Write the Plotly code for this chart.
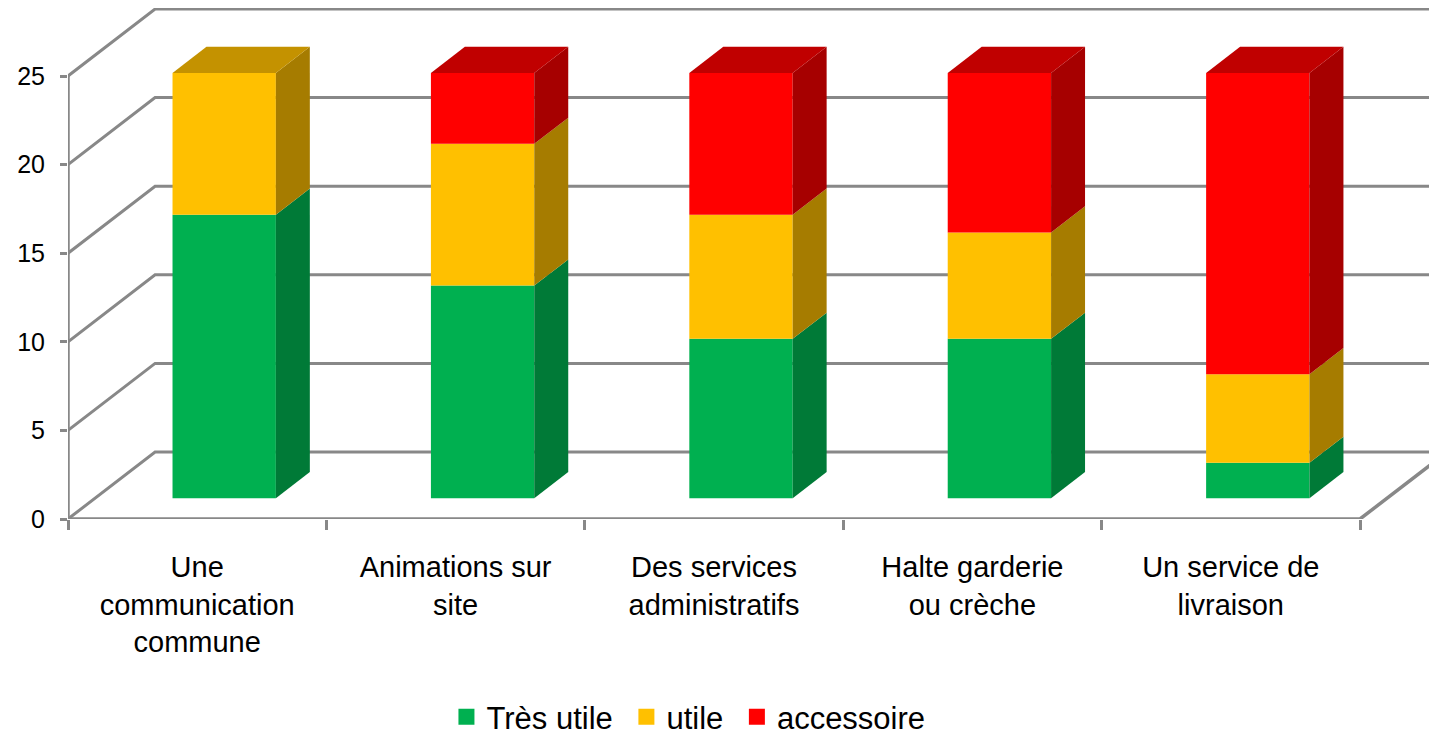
import plotly.graph_objects as go

categories = ["Une<br>communication<br>commune", "Animations sur<br>site",
              "Des services<br>administratifs", "Halte garderie<br>ou crèche",
              "Un service de<br>livraison"]
tres_utile = [16, 12, 9, 9, 2]
utile = [8, 8, 7, 6, 5]
accessoire = [0, 4, 8, 9, 17]
y_ticks = [0, 5, 10, 15, 20, 25]

series = [
    ("Très utile", tres_utile, "#00B050", "#007A37", "#009442"),
    ("utile", utile, "#FFC000", "#A67C00", "#C49200"),
    ("accessoire", accessoire, "#FF0000", "#A60000", "#C00000"),
]

# fake 3d: depth of the box in data units
DX = 0.337
DY = 3.78
F0 = 0.31   # front of bars, fraction of depth
FD = 0.39   # bar depth, fraction of depth
W = 0.4
XMAX = -0.5 + 1369 / 258.4
grid_col = "#888888"

fig = go.Figure()

# walls / gridlines
for v in y_ticks:
    fig.add_trace(go.Scatter(x=[-0.5, -0.5 + DX, XMAX], y=[v, v + DY, v + DY],
                             mode="lines", line=dict(color=grid_col, width=3),
                             hoverinfo="skip", showlegend=False))
fig.add_trace(go.Scatter(x=[-0.5, -0.5, 4.5, 4.5 + DX], y=[y_ticks[-1], 0, 0, DY],
                         mode="lines", line=dict(color=grid_col, width=3.5),
                         hoverinfo="skip", showlegend=False))

# bars
n = len(categories)
for i in range(n):
    base = 0
    x0 = i - W / 2 + F0 * DX
    x1 = x0 + W
    vals = [s[1][i] for s in series]
    last = max(k for k, v in enumerate(vals) if v > 0)
    for k, (name, data, front, side, top) in enumerate(series):
        v = data[i]
        if v <= 0:
            continue
        yb = base + F0 * DY
        yt = yb + v
        fig.add_trace(go.Scatter(x=[x0, x1, x1, x0, x0], y=[yb, yb, yt, yt, yb],
                                 fill="toself", fillcolor=front, mode="lines",
                                 line=dict(width=0, color=front),
                                 hoverinfo="skip", showlegend=False))
        fig.add_trace(go.Scatter(x=[x1, x1 + FD * DX, x1 + FD * DX, x1, x1],
                                 y=[yb, yb + FD * DY, yt + FD * DY, yt, yb],
                                 fill="toself", fillcolor=side, mode="lines",
                                 line=dict(width=0, color=side),
                                 hoverinfo="skip", showlegend=False))
        if k == last:
            fig.add_trace(go.Scatter(x=[x0, x1, x1 + FD * DX, x0 + FD * DX, x0],
                                     y=[yt, yt, yt + FD * DY, yt + FD * DY, yt],
                                     fill="toself", fillcolor=top, mode="lines",
                                     line=dict(width=0, color=top),
                                     hoverinfo="skip", showlegend=False))
        base += v

# legend entries
for name, data, front, side, top in series:
    fig.add_trace(go.Scatter(x=[None], y=[None], mode="markers", name=name + " ",
                             marker=dict(symbol="square", size=17, color=front)))

fig.update_layout(
    width=1429, height=736,
    margin=dict(l=60, r=0, t=0, b=225),
    plot_bgcolor="white", paper_bgcolor="white",
    font=dict(family="Liberation Sans, Arial", size=25, color="black"),
    showlegend=True,
    legend=dict(orientation="h", x=0.4565, xanchor="center", y=-0.3875, yanchor="middle",
                font=dict(size=31)),
    xaxis=dict(range=[-0.5, XMAX], tickvals=list(range(n)), ticktext=categories,
               ticks="", showgrid=False, zeroline=False, showline=False,
               tickfont=dict(size=29), ticklabelstandoff=28,
               minor=dict(tickvals=[i - 0.5 for i in range(n + 1)], ticks="outside",
                          ticklen=10, tickwidth=3, tickcolor=grid_col, showgrid=False)),
    yaxis=dict(range=[0, 511 / 17.72], tickvals=y_ticks, ticks="outside", ticklen=7,
               tickwidth=3, tickcolor=grid_col, showgrid=False, zeroline=False,
               showline=False, ticklabelstandoff=10),
)

fig.write_html("out.html")
